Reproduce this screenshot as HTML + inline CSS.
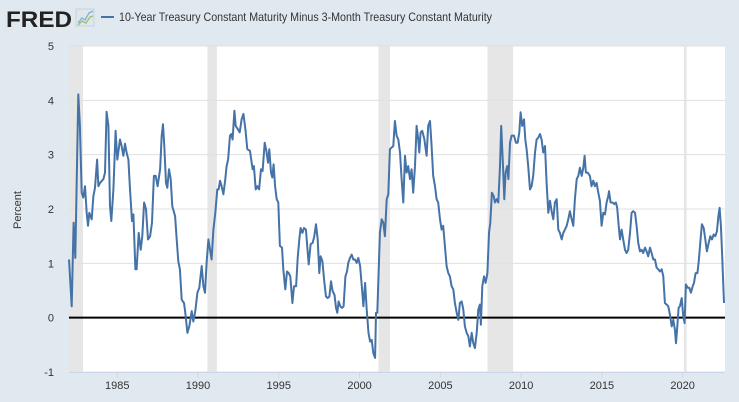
<!DOCTYPE html>
<html><head><meta charset="utf-8"><style>
body{margin:0;background:#e1e9f0;font-family:"Liberation Sans",sans-serif;}
#wrap{position:relative;width:739px;height:402px;overflow:hidden;background:#e1e9f0;}
</style></head><body>
<div id="wrap">
<svg id="chart" width="739" height="402" xmlns="http://www.w3.org/2000/svg">
<g>
<text x="6" y="27" font-family="Liberation Sans, sans-serif" font-weight="bold" font-size="22" fill="#222" textLength="66" lengthAdjust="spacingAndGlyphs">FRED</text>
<rect x="76" y="9" width="18" height="17" fill="#dfe6ec" stroke="#c8d2da"/>
<polyline points="78,23 82,18 85,20 89,13 93,11" fill="none" stroke="#7fb0d8" stroke-width="1.3"/>
<polyline points="78,25 82,21 86,23 90,17 93,16" fill="none" stroke="#9bc06a" stroke-width="1.3"/>
</g>
<g>
<line x1="101" y1="17" x2="114" y2="17" stroke="#4572a7" stroke-width="2"/>
<text x="119" y="21" font-size="12" fill="#333" textLength="373" lengthAdjust="spacingAndGlyphs">10-Year Treasury Constant Maturity Minus 3-Month Treasury Constant Maturity</text>
</g>
<rect x="69" y="46" width="656" height="326" fill="#fff"/>
<g id="rec"></g><g id="grid"></g><g id="xaxis"></g><g id="yaxis"></g>
<text transform="translate(21,210) rotate(-90)" text-anchor="middle" font-size="11" fill="#333">Percent</text>
<g id="series"></g>
</svg>
</div>
<script>
const recStart=[1981.58,1990.58,2001.17,2007.92,2020.08];
const recEnd=[1982.88,1991.17,2001.88,2009.5,2020.25];
const yTicks=[-1,0,1,2,3,4,5];
const xTicks=[1985,1990,1995,2000,2005,2010,2015,2020];
const years=[1982.01,1982.18,1982.30,1982.40,1982.59,1982.69,1982.80,1982.90,1983.00,1983.11,1983.19,1983.27,1983.42,1983.52,1983.62,1983.75,1983.83,1983.93,1984.14,1984.24,1984.34,1984.45,1984.55,1984.63,1984.76,1984.90,1985.00,1985.17,1985.27,1985.38,1985.48,1985.58,1985.69,1985.79,1985.91,1986.00,1986.12,1986.20,1986.33,1986.45,1986.55,1986.66,1986.78,1986.90,1987.03,1987.15,1987.27,1987.38,1987.50,1987.65,1987.75,1987.83,1987.91,1988.02,1988.10,1988.20,1988.31,1988.41,1988.58,1988.68,1988.78,1988.88,1988.99,1989.13,1989.21,1989.34,1989.46,1989.61,1989.71,1989.83,1989.96,1990.08,1990.23,1990.33,1990.43,1990.53,1990.64,1990.72,1990.84,1990.95,1991.07,1991.19,1991.28,1991.36,1991.46,1991.57,1991.69,1991.77,1991.86,1991.98,1992.06,1992.14,1992.25,1992.33,1992.46,1992.58,1992.70,1992.81,1992.93,1993.05,1993.22,1993.38,1993.46,1993.57,1993.67,1993.78,1993.90,1994.00,1994.13,1994.23,1994.33,1994.41,1994.52,1994.60,1994.68,1994.77,1994.87,1994.97,1995.07,1995.20,1995.28,1995.40,1995.51,1995.61,1995.71,1995.84,1995.94,1996.07,1996.17,1996.27,1996.35,1996.46,1996.56,1996.68,1996.85,1996.97,1997.10,1997.20,1997.30,1997.41,1997.51,1997.59,1997.70,1997.82,1997.92,1998.02,1998.13,1998.23,1998.33,1998.45,1998.54,1998.62,1998.70,1998.81,1998.91,1999.01,1999.12,1999.22,1999.30,1999.41,1999.51,1999.61,1999.72,1999.82,1999.92,2000.03,2000.14,2000.24,2000.34,2000.44,2000.55,2000.65,2000.75,2000.85,2000.96,2001.02,2001.10,2001.18,2001.26,2001.37,2001.47,2001.57,2001.68,2001.78,2001.88,2002.09,2002.19,2002.29,2002.40,2002.50,2002.60,2002.71,2002.81,2002.91,2003.01,2003.12,2003.22,2003.32,2003.43,2003.53,2003.63,2003.70,2003.78,2003.88,2004.01,2004.15,2004.25,2004.36,2004.46,2004.56,2004.67,2004.77,2004.87,2004.98,2005.08,2005.18,2005.28,2005.39,2005.49,2005.59,2005.70,2005.80,2005.90,2006.01,2006.11,2006.21,2006.32,2006.42,2006.52,2006.63,2006.73,2006.83,2006.94,2007.04,2007.14,2007.25,2007.35,2007.45,2007.51,2007.60,2007.70,2007.80,2007.91,2008.01,2008.09,2008.19,2008.30,2008.38,2008.48,2008.59,2008.69,2008.77,2008.88,2008.96,2009.04,2009.14,2009.21,2009.31,2009.41,2009.56,2009.68,2009.78,2009.89,2009.97,2010.07,2010.18,2010.26,2010.34,2010.44,2010.55,2010.65,2010.75,2010.86,2010.96,2011.06,2011.17,2011.27,2011.37,2011.48,2011.58,2011.68,2011.79,2011.89,2011.99,2012.09,2012.20,2012.30,2012.40,2012.51,2012.61,2012.71,2012.82,2012.92,2013.02,2013.13,2013.23,2013.33,2013.44,2013.54,2013.64,2013.75,2013.85,2013.93,2014.01,2014.12,2014.26,2014.36,2014.47,2014.57,2014.67,2014.78,2014.88,2014.98,2015.09,2015.19,2015.29,2015.40,2015.44,2015.54,2015.66,2015.77,2015.87,2015.95,2016.04,2016.12,2016.22,2016.32,2016.43,2016.53,2016.63,2016.74,2016.84,2016.94,2017.05,2017.15,2017.25,2017.36,2017.46,2017.56,2017.67,2017.77,2017.87,2017.98,2018.08,2018.18,2018.29,2018.39,2018.49,2018.59,2018.70,2018.80,2018.90,2019.01,2019.11,2019.21,2019.32,2019.42,2019.52,2019.59,2019.67,2019.75,2019.83,2019.94,2020.04,2020.12,2020.20,2020.31,2020.41,2020.51,2020.62,2020.70,2020.80,2020.91,2020.99,2021.09,2021.19,2021.30,2021.40,2021.50,2021.61,2021.71,2021.81,2021.92,2022.02,2022.12,2022.21,2022.29,2022.37,2022.45,2022.56];
const spread=[1.07,0.21,1.75,1.10,4.11,3.53,2.30,2.21,2.42,1.93,1.69,1.93,1.81,2.24,2.39,2.91,2.42,2.48,2.55,2.67,3.79,3.53,2.05,1.78,2.36,3.44,2.91,3.28,3.16,2.98,3.20,3.04,2.91,2.36,1.78,1.90,0.89,0.89,1.56,1.25,1.50,2.12,2.00,1.44,1.50,1.75,2.61,2.61,2.42,2.73,3.35,3.56,3.16,2.48,2.39,2.73,2.55,2.05,1.87,1.44,1.04,0.89,0.33,0.27,0.09,-0.28,-0.16,0.12,-0.07,0.12,0.46,0.55,0.95,0.58,0.46,1.01,1.44,1.29,1.07,1.62,1.93,2.36,2.36,2.52,2.42,2.27,2.55,2.79,2.91,3.35,3.38,3.28,3.81,3.53,3.47,3.41,3.65,3.75,3.47,3.10,3.07,2.73,2.79,2.36,2.42,2.36,2.73,2.70,3.22,3.07,2.85,3.10,2.67,2.58,2.82,2.42,2.18,2.12,1.32,1.29,0.89,0.52,0.85,0.82,0.76,0.27,0.58,0.58,1.10,1.44,1.65,1.56,1.65,1.62,0.98,1.35,1.38,1.50,1.72,1.44,0.82,1.13,1.04,0.64,0.39,0.36,0.39,0.67,0.49,0.42,0.18,0.09,0.30,0.21,0.18,0.21,0.76,0.85,1.01,1.10,1.16,1.07,1.07,1.01,1.10,0.95,0.58,0.21,0.64,0.15,-0.28,-0.44,-0.41,-0.65,-0.74,0.09,0.09,0.82,1.56,1.81,1.75,1.50,2.18,2.27,3.10,3.16,3.62,3.35,3.28,3.04,2.55,2.12,2.98,2.67,2.79,2.55,2.73,2.30,2.79,3.53,3.29,3.04,3.41,3.44,3.29,2.98,3.53,3.62,3.16,2.61,2.42,2.18,2.12,1.81,1.62,1.69,1.32,0.95,0.82,0.76,0.58,0.52,0.27,0.09,-0.04,0.27,0.30,0.15,-0.16,-0.28,-0.34,-0.53,-0.28,-0.47,-0.56,-0.28,0.15,0.24,-0.13,0.58,0.76,0.64,0.82,1.56,1.75,2.30,2.24,2.12,2.18,2.12,2.79,3.53,2.79,2.18,2.67,2.79,2.55,3.22,3.35,3.35,3.22,3.22,3.41,3.78,3.53,3.65,3.28,3.10,2.79,2.36,2.42,2.61,3.04,3.28,3.31,3.38,3.28,3.04,3.16,2.48,1.93,2.15,1.96,1.81,2.12,2.18,1.62,1.56,1.44,1.56,1.62,1.69,1.81,1.96,1.81,1.69,2.18,2.55,2.61,2.76,2.61,2.76,2.98,2.67,2.67,2.61,2.42,2.52,2.42,2.48,2.30,2.15,1.69,1.93,1.90,2.12,2.24,2.33,2.12,2.12,2.09,2.12,2.02,1.69,1.44,1.62,1.44,1.25,1.19,1.25,1.56,1.93,1.96,1.93,1.69,1.38,1.22,1.25,1.19,1.29,1.22,1.13,1.29,1.19,1.07,1.07,0.92,0.89,0.85,0.89,0.76,0.27,0.24,0.21,0.06,-0.16,-0.04,-0.22,-0.47,-0.16,0.18,0.21,0.36,0.02,-0.10,0.61,0.55,0.55,0.46,0.58,0.64,0.82,0.82,1.01,1.38,1.72,1.65,1.44,1.22,1.38,1.50,1.44,1.53,1.50,1.59,1.87,2.02,1.69,1.13,0.27];

const NS='http://www.w3.org/2000/svg';
const L=69,R=725,T=46,B=372;
const x0=1982.0;
function xs(y){return 68.8+(y-x0)*16.154;}
function ys(v){return T+(5-v)*(B-T)/6;}
function mk(tag,attrs,parent){const e=document.createElementNS(NS,tag);for(const k in attrs)e.setAttribute(k,attrs[k]);parent.appendChild(e);return e;}
const rec=document.getElementById('rec');
recStart.forEach((s,i)=>{
  const a=Math.max(L,xs(s)),b=Math.min(R,xs(recEnd[i]));
  const r=mk('rect',{x:a,y:T,width:b-a,height:B-T,fill:'#e6e6e6'},rec);
  
  
});
const grid=document.getElementById('grid'),ya=document.getElementById('yaxis'),xa=document.getElementById('xaxis');
yTicks.forEach(v=>{
  const y=ys(v);
  if(v!==0){const g=mk('line',{x1:L,x2:R,y1:y,y2:y,stroke:'#e0e0e0','stroke-width':1},grid);
  
  }
  const t=mk('text',{x:54,y:y+4,'text-anchor':'end','font-size':11,fill:'#333'},ya);
  t.textContent=v;
  
  
});
mk('line',{x1:L,x2:R,y1:B+0.5,y2:B+0.5,stroke:'#ccd6eb','stroke-width':1},xa);
xTicks.forEach(yr=>{
  const x=xs(yr);
  const tk=mk('line',{x1:x,x2:x,y1:B,y2:B+6,stroke:'#ccd6eb','stroke-width':1},xa);
  
  
  const t=mk('text',{x:x,y:B+17,'text-anchor':'middle','font-size':11,fill:'#333'},xa);
  t.textContent=yr;
  
  
});
const ser=document.getElementById('series');
const zl=mk('line',{x1:L,x2:R,y1:ys(0),y2:ys(0),stroke:'#000','stroke-width':2},ser);


const pts=years.map((yr,i)=>xs(yr).toFixed(1)+','+ys(spread[i]).toFixed(1)).join(' ');
const pl=mk('polyline',{points:pts,fill:'none',stroke:'#4572a7','stroke-width':2,'stroke-linejoin':'round'},ser);


</script>
</body></html>
